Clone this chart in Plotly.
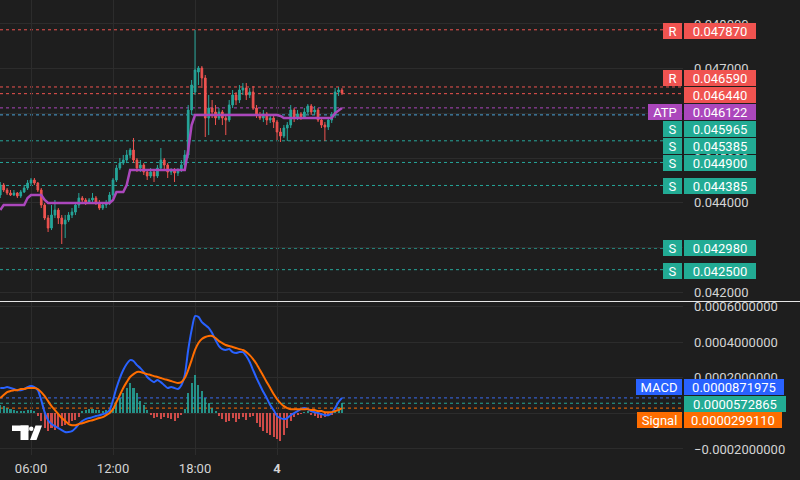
import plotly.graph_objects as go
import pandas as pd

# ---------------- data (15-minute candles) ----------------
times = pd.date_range("2024-06-03 03:45", periods=101, freq="15min")

open_ = [0.044171, 0.044395, 0.044283, 0.044216, 0.044171, 0.044216, 0.044149, 0.044238, 0.044328, 0.044440,
         0.044507, 0.044440, 0.044283, 0.043947, 0.043656, 0.043432, 0.043723, 0.043835, 0.043656, 0.043522,
         0.043611, 0.043723, 0.043790, 0.043947, 0.044104, 0.044059, 0.044014, 0.044059, 0.044104, 0.043992,
         0.043880, 0.043947, 0.043992, 0.044171, 0.044507, 0.044775, 0.044887, 0.044955, 0.045067, 0.045178,
         0.044955, 0.044775, 0.044843, 0.044686, 0.044596, 0.044686, 0.044596, 0.044775, 0.044955, 0.044843,
         0.044686, 0.044731, 0.044664, 0.044731, 0.044843, 0.045067, 0.046074, 0.046477, 0.046925, 0.047014,
         0.046791, 0.045895, 0.046119, 0.046029, 0.045895, 0.046029, 0.045895, 0.045850, 0.046186, 0.046410,
         0.046298, 0.046522, 0.046567, 0.046410, 0.046477, 0.046119, 0.045962, 0.045895, 0.045985, 0.045850,
         0.045895, 0.045805, 0.045582, 0.045492, 0.045671, 0.045738, 0.046074, 0.045895, 0.045985, 0.045917,
         0.046029, 0.046164, 0.046029, 0.046074, 0.045850, 0.045738, 0.045693, 0.045850, 0.045962, 0.046477,
         0.046522]
high = [0.044462, 0.044440, 0.044328, 0.044283, 0.044283, 0.044238, 0.044283, 0.044395, 0.044507, 0.044552,
        0.044552, 0.044462, 0.044328, 0.043992, 0.043723, 0.043947, 0.044059, 0.043880, 0.043723, 0.043723,
        0.043790, 0.043880, 0.043992, 0.044216, 0.044149, 0.044104, 0.044104, 0.044216, 0.044149, 0.044059,
        0.043992, 0.044059, 0.044238, 0.044552, 0.044843, 0.044999, 0.045067, 0.045178, 0.045223, 0.045447,
        0.044999, 0.044955, 0.044887, 0.044731, 0.044775, 0.044731, 0.044843, 0.045223, 0.044999, 0.044887,
        0.044775, 0.044775, 0.044775, 0.044955, 0.045178, 0.046186, 0.046746, 0.047865, 0.047059, 0.047059,
        0.046858, 0.046410, 0.046298, 0.046186, 0.046119, 0.046074, 0.045962, 0.046298, 0.046522, 0.046477,
        0.046634, 0.046679, 0.046679, 0.046567, 0.046611, 0.046186, 0.046029, 0.046074, 0.046029, 0.045962,
        0.045940, 0.045850, 0.045671, 0.045738, 0.045805, 0.046186, 0.046119, 0.046074, 0.046029, 0.046119,
        0.046208, 0.046208, 0.046164, 0.046119, 0.045895, 0.045805, 0.045895, 0.046029, 0.046567, 0.046589,
        0.046567]
low = [0.044104, 0.044238, 0.044171, 0.044149, 0.044149, 0.044104, 0.044104, 0.044216, 0.044283, 0.044395,
       0.044395, 0.044238, 0.043880, 0.043611, 0.043343, 0.043387, 0.043656, 0.043522, 0.043074, 0.043208,
       0.043566, 0.043656, 0.043723, 0.043880, 0.043992, 0.043947, 0.043992, 0.044014, 0.043947, 0.043835,
       0.043835, 0.043880, 0.043947, 0.044104, 0.044462, 0.044731, 0.044843, 0.044887, 0.044999, 0.044887,
       0.044686, 0.044686, 0.044619, 0.044507, 0.044552, 0.044462, 0.044552, 0.044731, 0.044731, 0.044552,
       0.044619, 0.044462, 0.044596, 0.044686, 0.044775, 0.044999, 0.045962, 0.046410, 0.046634, 0.046567,
       0.045470, 0.045514, 0.045895, 0.045738, 0.045850, 0.045738, 0.045514, 0.045805, 0.046119, 0.046186,
       0.046231, 0.046410, 0.046298, 0.046343, 0.046074, 0.045895, 0.045850, 0.045805, 0.045738, 0.045783,
       0.045671, 0.045402, 0.045358, 0.045447, 0.045380, 0.045671, 0.045805, 0.045850, 0.045850, 0.045895,
       0.045985, 0.045962, 0.045962, 0.045805, 0.045671, 0.045380, 0.045626, 0.045783, 0.045895, 0.046388,
       0.046410]
close = [0.044395, 0.044283, 0.044216, 0.044171, 0.044216, 0.044149, 0.044238, 0.044328, 0.044440, 0.044507,
         0.044440, 0.044283, 0.043947, 0.043656, 0.043432, 0.043723, 0.043835, 0.043656, 0.043522, 0.043611,
         0.043723, 0.043790, 0.043947, 0.044104, 0.044059, 0.044014, 0.044059, 0.044104, 0.043992, 0.043880,
         0.043947, 0.043992, 0.044171, 0.044507, 0.044775, 0.044887, 0.044955, 0.045067, 0.045178, 0.044955,
         0.044775, 0.044843, 0.044686, 0.044596, 0.044686, 0.044596, 0.044775, 0.044955, 0.044843, 0.044686,
         0.044731, 0.044664, 0.044731, 0.044843, 0.045067, 0.046074, 0.046634, 0.046970, 0.047014, 0.046791,
         0.045895, 0.046119, 0.046029, 0.045895, 0.046029, 0.045895, 0.045850, 0.046186, 0.046410, 0.046298,
         0.046522, 0.046567, 0.046410, 0.046477, 0.046119, 0.045962, 0.045895, 0.045985, 0.045850, 0.045895,
         0.045805, 0.045582, 0.045492, 0.045671, 0.045738, 0.046074, 0.045895, 0.045985, 0.045917, 0.046029,
         0.046164, 0.046029, 0.046074, 0.045850, 0.045738, 0.045693, 0.045850, 0.045962, 0.046477, 0.046522,
         0.046455]
atp = [0.043835,
       0.043947, 0.043947, 0.043947, 0.043947, 0.043947, 0.043947, 0.043947,
       0.044104,
       0.044171, 0.044171, 0.044171, 0.044171,
       0.044059,
       0.043992, 0.043992, 0.043992, 0.043992, 0.043992, 0.043992, 0.043992, 0.043992, 0.043992, 0.043992,
       0.043992, 0.043992, 0.043992, 0.043992, 0.043992, 0.043992, 0.043992, 0.043992, 0.043992,
       0.044059,
       0.044238, 0.044238, 0.044238,
       0.044395,
       0.044731, 0.044731, 0.044731, 0.044731, 0.044731, 0.044731, 0.044731, 0.044731, 0.044731, 0.044731,
       0.044731, 0.044731, 0.044731, 0.044731, 0.044731, 0.044731, 0.044731,
       0.045178,
       0.045738,
       0.045962, 0.045962, 0.045962, 0.045962, 0.045962, 0.045962, 0.045962, 0.045962, 0.045962, 0.045962,
       0.045962, 0.045962, 0.045962, 0.045962, 0.045962, 0.045962, 0.045962, 0.045962, 0.045962, 0.045962,
       0.045962, 0.045962, 0.045962, 0.045962, 0.045962,
       0.045940,
       0.045895, 0.045895, 0.045895, 0.045895, 0.045895, 0.045895, 0.045895, 0.045895, 0.045895, 0.045895,
       0.045895, 0.045895, 0.045895, 0.045895, 0.045895,
       0.046007, 0.046074, 0.046122]

macd = [0.000143, 0.000143, 0.000148, 0.000143, 0.000137, 0.000131, 0.000131, 0.000137, 0.000148, 0.000154,
        0.000148, 0.000131, 0.000075, 0.000007, -0.000038, -0.000060, -0.000072, -0.000083, -0.000094, -0.000105,
        -0.000105, -0.000100, -0.000083, -0.000060, -0.000043, -0.000032, -0.000026, -0.000021, -0.000015, -0.000010,
        -0.000004, 0.000002, 0.000019, 0.000075, 0.000143, 0.000199, 0.000244, 0.000278, 0.000300, 0.000295,
        0.000272, 0.000255, 0.000233, 0.000205, 0.000188, 0.000176, 0.000188, 0.000176, 0.000159, 0.000143,
        0.000148, 0.000143, 0.000137, 0.000159, 0.000216, 0.000357, 0.000469, 0.000548, 0.000543, 0.000514,
        0.000497, 0.000481, 0.000452, 0.000413, 0.000379, 0.000362, 0.000357, 0.000362, 0.000345, 0.000340,
        0.000345, 0.000345, 0.000323, 0.000289, 0.000244, 0.000199, 0.000159, 0.000120, 0.000086, 0.000047,
        0.000019, -0.000015, -0.000026, -0.000032, -0.000026, -0.000010, 0.000002, 0.000013, 0.000024, 0.000030,
        0.000024, 0.000013, 0.000007, 0.000002, -0.000004, -0.000010, -0.000010, 0.000002, 0.000030, 0.000064,
        0.0000871975]
signal = [0.000086, 0.000103, 0.000120, 0.000126, 0.000131, 0.000131, 0.000137, 0.000137, 0.000143, 0.000143,
          0.000143, 0.000137, 0.000120, 0.000097, 0.000069, 0.000041, 0.000019, -0.000004, -0.000026, -0.000043,
          -0.000060, -0.000066, -0.000066, -0.000060, -0.000055, -0.000049, -0.000043, -0.000038, -0.000032, -0.000026,
          -0.000021, -0.000010, 0.000002, 0.000024, 0.000064, 0.000103, 0.000143, 0.000176, 0.000205, 0.000221,
          0.000233, 0.000233, 0.000227, 0.000221, 0.000216, 0.000210, 0.000205, 0.000199, 0.000193, 0.000188,
          0.000182, 0.000176, 0.000171, 0.000176, 0.000199, 0.000244, 0.000300, 0.000357, 0.000396, 0.000419,
          0.000430, 0.000436, 0.000436, 0.000424, 0.000407, 0.000396, 0.000385, 0.000379, 0.000374, 0.000368,
          0.000362, 0.000357, 0.000345, 0.000328, 0.000306, 0.000278, 0.000244, 0.000210, 0.000176, 0.000143,
          0.000109, 0.000081, 0.000058, 0.000041, 0.000030, 0.000024, 0.000024, 0.000024, 0.000024, 0.000024,
          0.000024, 0.000019, 0.000019, 0.000013, 0.000013, 0.000007, 0.000007, 0.000007, 0.000013, 0.000019,
          0.0000299110]
hist = [0.0000451, 0.0000394, 0.0000282, 0.0000225, 0.0000169, 0.0000113, 0.0000113, 0.0000113, 0.0000169, 0.0000169,
        0.0000113,
        -0.0000169, -0.0000451, -0.0000845, -0.0001014, -0.0000845, -0.0000958, -0.0000789, -0.0000732, -0.0000676,
        -0.0000563, -0.0000451, -0.0000394, -0.0000225,
        0.0000113, 0.0000169, 0.0000225, 0.0000225, 0.0000169, 0.0000169, 0.0000113, 0.0000169, 0.0000169,
        0.0000282, 0.0000563, 0.0000845, 0.0001127, 0.0001409, 0.0001690, 0.0001409, 0.0001127, 0.0000676,
        0.0000451, 0.0000169,
        -0.0000113, -0.0000282, -0.0000225, -0.0000338, -0.0000225, -0.0000282, -0.0000338, -0.0000451, -0.0000282,
        -0.0000113,
        0.0000225, 0.0001127, 0.0001690, 0.0002141, 0.0001578, 0.0001239, 0.0000845, 0.0000563, 0.0000282, 0.0000113,
        -0.0000169, -0.0000338, -0.0000507, -0.0000451, -0.0000282, -0.0000507, -0.0000338, -0.0000225, -0.0000394,
        -0.0000225, -0.0000169, -0.0000563, -0.0000789, -0.0001014, -0.0001127, -0.0001239, -0.0001352, -0.0001465,
        -0.0001578, -0.0001239, -0.0000845, -0.0000451, -0.0000225, -0.0000113, -0.0000056,
        0.0000056, 0.0000113,
        -0.0000113, -0.0000169, -0.0000282, -0.0000282, -0.0000225, -0.0000169, -0.0000113,
        0.0000169, 0.0000338, 0.0000572865]

# horizontal levels
level_prices = [0.047870, 0.046590, 0.046440, 0.046122, 0.045965, 0.045385, 0.044900, 0.044385, 0.042980, 0.042500]
level_tags = ["R", "R", "", "ATP", "S", "S", "S", "S", "S", "S"]

x_ticks = ["2024-06-03 06:00", "2024-06-03 12:00", "2024-06-03 18:00", "2024-06-04 00:00"]
x_tick_text = ["06:00", "12:00", "18:00", "<b>4</b>"]
price_ticks = [0.042, 0.043, 0.044, 0.045, 0.046, 0.047, 0.048]
macd_ticks = [-0.0002, 0.0, 0.0002, 0.0004, 0.0006]

# ---------------- styles ----------------
BG = "#1e1e1e"
GRID = "#2c2c2c"
TXT = "#d4d4d4"
UP = "#26a69a"
DN = "#ef5350"
PURPLE = "#ab47bc"
BLUE = "#2962ff"
ORANGE = "#ff6d00"
TEAL = "#22ab94"
RED_BOX = "#f05350"

line_colors = [DN, DN, DN, PURPLE, "#4ba3d6", UP, UP, UP, UP, UP]
box_colors = [RED_BOX, RED_BOX, RED_BOX, PURPLE, TEAL, TEAL, TEAL, TEAL, TEAL, TEAL]
box_shift = [-1, 9, -1, -4, -14, -5, -1, -1, 0, -1]
tag_widths = {"R": 19, "S": 19, "ATP": 34}

W_PLOT = 683.0
H_PLOT = 455.0
FONT = "Roboto"

fig = go.Figure()

fig.add_trace(go.Candlestick(
    x=times, open=open_, high=high, low=low, close=close,
    increasing=dict(line=dict(color=UP, width=1), fillcolor=UP),
    decreasing=dict(line=dict(color=DN, width=1), fillcolor=DN),
    whiskerwidth=0, xaxis="x", yaxis="y", hoverinfo="skip"))

fig.add_trace(go.Scatter(x=times, y=atp, mode="lines", line=dict(color=PURPLE, width=2.5),
                         xaxis="x", yaxis="y", hoverinfo="skip"))

hist_colors = [("rgba(38,166,154,0.85)" if v >= 0 else "rgba(239,83,80,0.85)") for v in hist]
fig.add_trace(go.Bar(x=times, y=hist, marker=dict(color=hist_colors, line=dict(width=0)),
                     width=900000 * 0.6, xaxis="x2", yaxis="y2", hoverinfo="skip"))
fig.add_trace(go.Scatter(x=times, y=macd, mode="lines", line=dict(color=BLUE, width=2, shape="spline", smoothing=0.6),
                         xaxis="x2", yaxis="y2", hoverinfo="skip"))
fig.add_trace(go.Scatter(x=times, y=signal, mode="lines", line=dict(color=ORANGE, width=2, shape="spline", smoothing=0.6),
                         xaxis="x2", yaxis="y2", hoverinfo="skip"))

shapes = []
annotations = []

def box(text, y, yref, color, width, shift, left=True):
    return dict(x=1, xref="paper", y=y, yref=yref, text=text, showarrow=False,
                xanchor="left" if left else "right", yanchor="middle",
                xshift=1 if left else -1, yshift=shift, bgcolor=color,
                width=width, height=16, borderpad=0, borderwidth=0, align="center",
                font=dict(color="white", size=13, family=FONT))

for p, tag, lc, bc, sh in zip(level_prices, level_tags, line_colors, box_colors, box_shift):
    shapes.append(dict(type="line", xref="paper", x0=0, x1=1, yref="y", y0=p, y1=p,
                       line=dict(color=lc, width=1, dash="dot"), layer="below"))
    annotations.append(box(f"{p:.6f}", p, "y", bc, 72, sh))
    if tag:
        annotations.append(box(tag, p, "y", bc, tag_widths[tag], sh, left=False))

# MACD pane value lines + labels
macd_last, hist_last, sig_last = macd[-1], hist[-1], signal[-1]
for v, c in [(macd_last, "#3a6cf0"), (hist_last, UP), (sig_last, ORANGE)]:
    shapes.append(dict(type="line", xref="paper", x0=0, x1=1, yref="y2", y0=v, y1=v,
                       line=dict(color=c, width=1, dash="dot"), layer="below"))
annotations.append(box(f"{macd_last:.10f}", macd_last, "y2", BLUE, 100, 11))
annotations.append(box("MACD", macd_last, "y2", BLUE, 46, 11, left=False))
annotations.append(box(f"{hist_last:.10f}", hist_last, "y2", TEAL, 102, -1))
annotations.append(box(f"{sig_last:.10f}", sig_last, "y2", ORANGE, 98, -12))
annotations.append(box("Signal", sig_last, "y2", ORANGE, 45, -12, left=False))

# pane separator
sep_y = 1 - 301.5 / H_PLOT
shapes.append(dict(type="line", xref="paper", yref="paper", x0=0, x1=800 / W_PLOT, y0=sep_y, y1=sep_y,
                   line=dict(color="#e6e6e6", width=1)))

# TradingView logo (decoration)
def px(x): return x / W_PLOT
def py(y): return 1 - y / H_PLOT
logo = "white"
shapes.append(dict(type="rect", xref="paper", yref="paper", x0=px(12), x1=px(28.5), y0=py(431), y1=py(425.5),
                   fillcolor=logo, line=dict(width=0)))
shapes.append(dict(type="rect", xref="paper", yref="paper", x0=px(20.5), x1=px(28.5), y0=py(440), y1=py(425.5),
                   fillcolor=logo, line=dict(width=0)))
shapes.append(dict(type="circle", xref="paper", yref="paper", x0=px(29), x1=px(33.5), y0=py(431), y1=py(426.5),
                   fillcolor=logo, line=dict(width=0)))
shapes.append(dict(type="path", xref="paper", yref="paper",
                   path=f"M {px(35.5)} {py(425.5)} L {px(42)} {py(425.5)} L {px(36.5)} {py(440)} L {px(30)} {py(440)} Z",
                   fillcolor=logo, line=dict(width=0)))

x_range = ["2024-06-03 03:43:54", "2024-06-05 05:42:00"]

fig.update_layout(
    width=800, height=480,
    margin=dict(l=0, r=117, t=0, b=25, autoexpand=False),
    paper_bgcolor=BG, plot_bgcolor=BG,
    showlegend=False, bargap=0,
    font=dict(family=FONT, size=13, color=TXT),
    xaxis=dict(domain=[0, 1], anchor="y", type="date", range=x_range,
               rangeslider=dict(visible=False), tickvals=x_ticks, showticklabels=False,
               showgrid=True, gridcolor=GRID, zeroline=False, showline=False),
    xaxis2=dict(domain=[0, 1], anchor="y2", type="date", range=x_range, matches="x",
                tickvals=x_ticks, ticktext=x_tick_text, showgrid=True, gridcolor=GRID,
                zeroline=False, showline=False, ticklabelstandoff=4,
                tickfont=dict(size=13, color=TXT, family=FONT)),
    yaxis=dict(domain=[1 - 300 / H_PLOT, 1], anchor="x", side="right",
               range=[0.041821, 0.048537], tickvals=price_ticks, tickformat=".6f",
               showgrid=True, gridcolor=GRID, zeroline=False, showline=False,
               ticklabelstandoff=10, tickfont=dict(size=13, color=TXT, family=FONT)),
    yaxis2=dict(domain=[0, 153 / H_PLOT], anchor="x2", side="right",
                range=[-0.000234, 0.000627], tickvals=macd_ticks, tickformat=".10f",
                showgrid=True, gridcolor=GRID, zeroline=False, showline=False,
                ticklabelstandoff=10, tickfont=dict(size=13, color=TXT, family=FONT)),
    shapes=shapes, annotations=annotations,
)

fig.write_html("out.html", config={"displayModeBar": False},
               post_script="document.body.style.margin='0';document.body.style.background='#1e1e1e';")
